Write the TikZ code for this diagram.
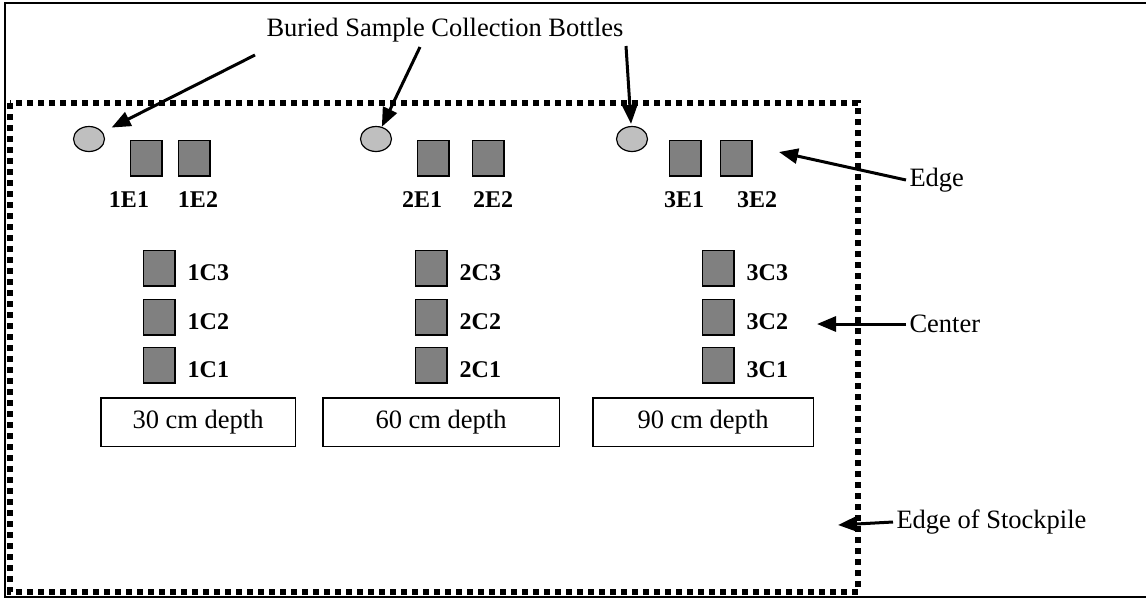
\documentclass[tikz,border=0pt]{standalone}
\usepackage{fontspec}
\setmainfont{Liberation Serif}
\usetikzlibrary{arrows.meta,shapes.geometric,positioning}

\begin{document}
\begin{tikzpicture}[x=1pt,y=-1pt,
		font=\fontsize{26.5}{30}\selectfont,
		frame/.style={draw, line width=1.5pt},
		pile/.style={draw, line width=6pt, dash pattern=on 6pt off 5pt},
		bottle/.style={draw, ellipse, fill=black!25, line width=1.2pt,
			minimum width=31pt, minimum height=25pt, inner sep=0pt},
		sample/.style={draw, fill=black!50, line width=1.5pt,
			minimum width=31.5pt, minimum height=35.5pt, inner sep=0pt},
		tag/.style={font=\fontsize{24}{28}\selectfont\bfseries, inner sep=0pt},
		depth/.style={draw, line width=1.5pt, minimum height=48.5pt},
		pointer/.style={line width=3pt, -{Triangle[length=19pt,width=15pt]}},
	]
	\useasboundingbox (0,0) rectangle (1146,598);

	% page frame and stockpile outline
	\draw[frame] (5,3) rectangle (1152,597);
	\draw[pile] (10,103) rectangle (858,592);

	% bottles
	\node[bottle] (b1) at (89,139) {};
	\node[bottle] (b2) at (376,139) {};
	\node[bottle] (b3) at (632,139) {};

	% edge samples
	\node[sample] (e11) at (146,158) {};
	\node[sample] (e12) at (194,158) {};
	\node[sample] (e21) at (433,158) {};
	\node[sample] (e22) at (488,158) {};
	\node[sample] (e31) at (685,158) {};
	\node[sample] (e32) at (736,158) {};
	\node[tag] (le11) at (129,200) {1E1};
	\node[tag] (le12) at (198,200) {1E2};
	\node[tag] (le21) at (422,200) {2E1};
	\node[tag] (le22) at (493,200) {2E2};
	\node[tag] (le31) at (684,200) {3E1};
	\node[tag] (le32) at (757,200) {3E2};

	% center samples, three per column
	\foreach \col/\x in {1/159,2/431,3/718}{
		\node[sample] (c\col1) at (\x,365) {};
		\node[sample] (c\col2) at (\x,317) {};
		\node[sample] (c\col3) at (\x,268) {};
		\foreach \k in {1,2,3}
			\node[tag, anchor=west] (lc\col\k) at ([shift={(12,5)}]c\col\k.east) {\col C\k};
	}

	% depths
	\node[depth, minimum width=194.5pt] (d1) at (198,422) {30 cm depth};
	\node[depth, minimum width=236.5pt] (d2) at (441,422) {60 cm depth};
	\node[depth, minimum width=220.5pt] (d3) at (703,422) {90 cm depth};

	% callouts
	\node (title) at (445,30) {Buried Sample Collection Bottles};
	\coordinate (t1) at (255,55);
	\coordinate (t2) at (420,47);
	\coordinate (t3) at (626,46);
	\draw[pointer, shorten >=10pt] (t1) -- (b1);
	\draw[pointer] (t2) -- (b2);
	\draw[pointer, shorten >=2pt] (t3) -- (b3);

	\node[anchor=west] (edge) at (906,180) {Edge};
	\coordinate (etip) at (779,152);
	\draw[pointer] (edge.west) -- (etip);

	\node[anchor=west] (cntr) at (906,324) {Center};
	\coordinate (ctip) at (817,324);
	\draw[pointer] (cntr.west) -- (ctip);

	\node[anchor=west] (pile) at (893,522) {Edge of Stockpile};
	\coordinate (ptip) at (838,525);
	\draw[pointer] (pile.west) -- (ptip);
\end{tikzpicture}
\end{document}
